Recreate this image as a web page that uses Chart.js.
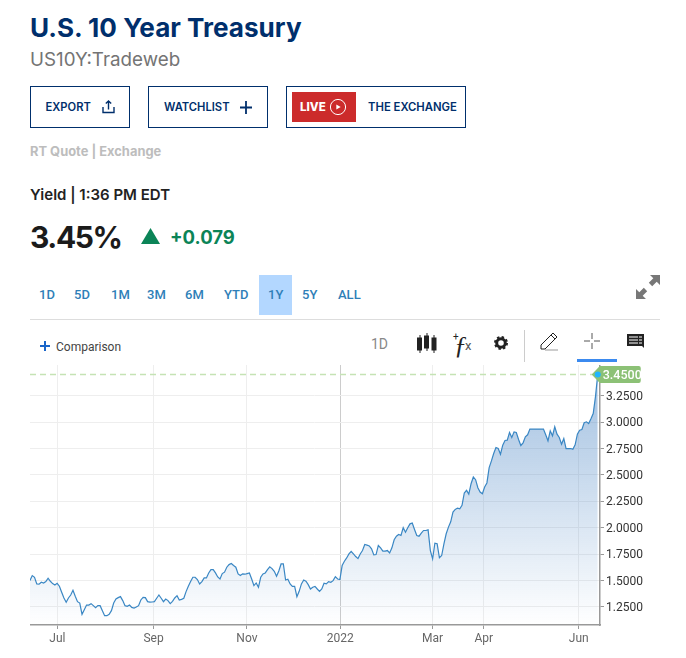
<!DOCTYPE html>
<html>
<head>
<meta charset="utf-8">
<script src="https://cdn.jsdelivr.net/npm/chart.js@4"></script>
<style>
  html, body { margin: 0; padding: 0; background: #fff; }
  body { width: 686px; height: 658px; position: relative; overflow: hidden; font-family: Inter, sans-serif; }
  .t { position: absolute; white-space: nowrap; line-height: 1; }
  .box { position: absolute; border: 1.5px solid #002f6c; box-sizing: border-box; }
  svg { position: absolute; overflow: visible; }
  #chart { position: absolute; left: 30px; top: 365px; }
  .range { position: absolute; top: 287px; font: 500 13px Roboto, sans-serif; color: #2f7fb8; }
</style>
</head>
<body>
<div class="t" style="left:30px;top:15px;font-size:26.1px;font-weight:700;color:#002f6c">U.S. 10 Year Treasury</div>
<div class="t" style="left:30px;top:51px;font-size:18.8px;font-weight:400;color:#747474">US10Y:Tradeweb</div>

<div class="box" style="left:30px;top:86px;width:100px;height:42px"></div>
<div class="t" style="left:45.500px;top:102px;font-size:11.2px;font-weight:600;color:#002f6c">EXPORT</div>
<svg style="left:102px;top:100px" width="13" height="14" fill="none" stroke="#002f6c" stroke-width="1.4"><path d="M1 7v5.500h11V7M6.500 9.500V1M3.800 3.500 6.500 1l2.700 2.500"/></svg>

<div class="box" style="left:148px;top:86px;width:120px;height:42px"></div>
<div class="t" style="left:164px;top:102px;font-size:11.2px;font-weight:600;color:#002f6c">WATCHLIST</div>
<svg style="left:240px;top:101px" width="12" height="13" stroke="#002f6c" stroke-width="1.8"><path d="M6 0v13M0 6.500h12"/></svg>

<div class="box" style="left:286px;top:86px;width:180px;height:42px"></div>
<div style="position:absolute;left:292px;top:92px;width:64px;height:30px;background:#cc2b2b"></div>
<div class="t" style="left:300px;top:102px;font-size:11.500px;font-weight:800;color:#fff">LIVE</div>
<svg style="left:330px;top:99px" width="16" height="16"><circle cx="8" cy="8" r="7.600" fill="none" stroke="#fff" stroke-width="1"/><path d="M6.300 5.500 10.700 8l-4.400 2.500z" fill="#fff"/></svg>
<div class="t" style="left:368px;top:102px;font-size:11.3px;font-weight:600;color:#002f6c">THE EXCHANGE</div>

<div class="t" style="left:30px;top:146px;font-size:12.9px;font-weight:700;color:#bdbdbd">RT Quote | Exchange</div>
<div class="t" style="left:30px;top:187px;font-size:15px;font-weight:600;color:#222">Yield | 1:36 PM EDT</div>
<div class="t" style="left:30px;top:222px;font-size:30px;font-weight:700;letter-spacing:-1.4px;color:#1b1b1b">3.45%</div>
<svg style="left:141px;top:228px" width="19" height="16"><path d="M9.500 0 19 16H0z" fill="#0b8457"/></svg>
<div class="t" style="left:170px;top:228px;font-size:18.500px;font-weight:700;color:#0b8457">+0.079</div>

<div style="position:absolute;left:259px;top:275px;width:33px;height:40px;background:#b3d7ff"></div>
<div class="range" style="left:39px">1D</div>
<div class="range" style="left:74px">5D</div>
<div class="range" style="left:111px">1M</div>
<div class="range" style="left:147px">3M</div>
<div class="range" style="left:185px">6M</div>
<div class="range" style="left:224px">YTD</div>
<div class="range" style="left:268px">1Y</div>
<div class="range" style="left:302px">5Y</div>
<div class="range" style="left:338px">ALL</div>
<svg style="left:636px;top:275px" width="24" height="25" fill="#777"><path d="M14 0h10v10l-3.300-3.300-4.500 4.500-3.400-3.400 4.500-4.500zM0 24V14l3.300 3.300 4.500-4.500 3.400 3.400-4.500 4.500L10 24z"/></svg>
<div style="position:absolute;left:30px;top:319px;width:630px;height:1px;background:#ddd"></div>

<svg style="left:40px;top:341px" width="10" height="10" stroke="#1a66c9" stroke-width="2"><path d="M5 0v10M0 5h10"/></svg>
<div class="t" style="left:56px;top:340px;font:12px Roboto,sans-serif;color:#444">Comparison</div>
<div class="t" style="left:371px;top:336px;font:14px Roboto,sans-serif;color:#888">1D</div>
<svg style="left:417px;top:333px" width="20" height="20" fill="#222" stroke="#222"><path d="M3 2v18M10 0v18M17 2v18" stroke-width="1"/><rect x=".5" y="5" width="4" height="12"/><rect x="7.500" y="3" width="4" height="12"/><rect x="15" y="5" width="4" height="12"/></svg>
<div class="t" style="left:454px;top:331px;font:italic 26px 'Liberation Serif',serif;color:#222">&#402;</div>
<div class="t" style="left:453px;top:331px;font:10px Roboto,sans-serif;color:#222">+</div>
<div class="t" style="left:465px;top:338px;font:13px Roboto,sans-serif;color:#555">x</div>
<svg style="left:494px;top:336px" width="14" height="14"><circle cx="7" cy="7" r="4.300" fill="none" stroke="#222" stroke-width="3"/><circle cx="7" cy="7" r="6" fill="none" stroke="#222" stroke-width="2" stroke-dasharray="2.400 2.300"/></svg>
<div style="position:absolute;left:524px;top:330px;width:1px;height:32px;background:#ccc"></div>
<svg style="left:540px;top:333px" width="19" height="18" fill="none" stroke="#222" stroke-width="1"><path d="M1 16v-4L11 2l4 4L5 16zM11 2l2-2 4 4-2 2"/><path d="M5 17h13" stroke="#999"/></svg>
<svg style="left:584px;top:333px" width="16" height="16" stroke="#555" stroke-width="1"><path d="M8 0v6M8 10v6M0 8h6M10 8h6"/></svg>
<svg style="left:627px;top:334px" width="17" height="15"><path d="M0 0h17v14l-2-2H0z" fill="#222"/><path d="M2 3h9M2 6h9M2 9h9M12 3h3M12 6h3M12 9h3" stroke="#fff" stroke-width="1"/></svg>
<div style="position:absolute;left:577px;top:359px;width:40px;height:3px;background:#3b8aef"></div>

<canvas id="chart" width="640" height="293"></canvas>

<script>
// x is the trading day index, roughly Jun 2021 to Jun 2022
const yields = [
  1.50,1.547,1.531,1.468,1.465,1.484,1.477,1.490,1.522,1.493,
  1.471,1.458,1.474,1.446,1.389,1.335,1.294,1.335,1.363,1.408,
  1.351,1.300,1.287,1.180,1.224,1.268,1.268,1.281,1.262,1.243,
  1.262,1.262,1.215,1.167,1.167,1.180,1.215,1.287,1.325,1.338,
  1.348,1.310,1.262,1.256,1.268,1.246,1.240,1.249,1.262,1.316,
  1.341,1.338,1.300,1.295,1.297,1.300,1.332,1.363,1.332,1.300,
  1.325,1.310,1.281,1.303,1.335,1.357,1.316,1.322,1.332,1.395,
  1.446,1.490,1.531,1.531,1.509,1.468,1.490,1.525,1.525,1.572,
  1.604,1.604,1.572,1.534,1.515,1.566,1.579,1.626,1.651,1.661,
  1.642,1.626,1.563,1.547,1.563,1.560,1.566,1.572,1.515,1.452,
  1.477,1.436,1.531,1.563,1.572,1.604,1.630,1.613,1.588,1.540,
  1.590,1.657,1.657,1.505,1.512,1.468,1.445,1.445,1.347,1.398,
  1.468,1.505,1.493,1.461,1.420,1.436,1.445,1.420,1.398,1.420,
  1.474,1.468,1.490,1.483,1.499,1.537,1.515,1.509,1.642,1.683,
  1.714,1.752,1.775,1.752,1.727,1.708,1.752,1.784,1.841,1.835,
  1.828,1.800,1.743,1.746,1.832,1.810,1.778,1.778,1.784,1.762,
  1.810,1.886,1.920,1.936,1.927,2.000,1.958,2.000,2.037,2.044,
  1.984,1.927,1.920,1.949,1.974,1.974,1.980,1.784,1.705,1.854,
  1.848,1.715,1.737,1.848,1.943,2.006,2.056,2.148,2.174,2.186,
  2.180,2.212,2.329,2.354,2.319,2.417,2.481,2.455,2.379,2.338,
  2.322,2.386,2.424,2.570,2.633,2.703,2.760,2.750,2.696,2.782,
  2.826,2.829,2.902,2.855,2.908,2.902,2.836,2.779,2.804,2.861,
  2.880,2.934,2.934,2.934,2.934,2.934,2.934,2.934,2.880,2.823,
  2.918,2.870,2.956,2.886,2.855,2.791,2.845,2.750,2.750,2.750,
  2.744,2.785,2.886,2.924,2.930,2.994,3.003,2.987,3.032,3.082,
  3.241,3.45
];
const xTickLabels = ["Jul","Sep","Nov","2022","Mar","Apr","Jun"];
const xTickDays = [12.1,54.6,95.9,137.2,178,200.6,242.6];
const yTicks = [1.25,1.5,1.75,2,2.25,2.5,2.75,3,3.25];
const lastYield = yields[yields.length - 1];

const lastLabel = {
  id: "lastLabel",
  afterDraw(chart) {
    const c = chart.ctx;
    const x = chart.scales.x.getPixelForValue(yields.length - 1);
    const y = chart.scales.y.getPixelForValue(lastYield);
    c.save();
    c.fillStyle = "#8cc176";
    c.beginPath();
    c.moveTo(x - 6, y);
    c.lineTo(x + 2, y - 8.500);
    c.lineTo(x + 41, y - 8.500);
    c.quadraticCurveTo(x + 43, y - 8.500, x + 43, y - 6.500);
    c.lineTo(x + 43, y + 6.500);
    c.quadraticCurveTo(x + 43, y + 8.500, x + 41, y + 8.500);
    c.lineTo(x + 2, y + 8.500);
    c.closePath();
    c.fill();
    c.fillStyle = "#1fb5ff";
    c.beginPath();
    c.arc(x, y, 3, 0, Math.PI * 2);
    c.fill();
    c.fillStyle = "#fff";
    c.font = "500 12.5px Roboto, sans-serif";
    c.textBaseline = "middle";
    c.fillText(lastYield.toFixed(4), x + 5, y + 1);
    c.restore();
  }
};

new Chart(document.getElementById("chart"), {
  type: "line",
  data: {
    datasets: [
      {
        data: yields.map((v, i) => ({ x: i, y: v })),
        borderColor: "#3a87c4",
        borderWidth: 1.2,
        pointRadius: 0,
        tension: 0,
        fill: "start",
        backgroundColor(ctx) {
          const a = ctx.chart.chartArea;
          if (!a) return "transparent";
          const g = ctx.chart.ctx.createLinearGradient(0, a.top, 0, a.bottom);
          g.addColorStop(0, "rgba(55,120,190,.48)");
          g.addColorStop(1, "rgba(55,120,190,0)");
          return g;
        }
      },
      {
        data: [{ x: 0, y: lastYield }, { x: yields.length - 1, y: lastYield }],
        borderColor: "#c5e3b5",
        backgroundColor: "#c5e3b5",
        borderWidth: 1.5,
        borderDash: [6, 4],
        pointRadius: 0,
        fill: false
      }
    ]
  },
  options: {
    responsive: false,
    animation: false,
    parsing: false,
    plugins: { legend: { display: false }, tooltip: { enabled: false } },
    layout: { padding: 0 },
    scales: {
      x: {
        type: "linear",
        min: 0,
        max: 252,
        afterBuildTicks(s) { s.ticks = xTickDays.map(v => ({ value: v })); },
        afterFit(s) { s.height = 33; s.paddingLeft = 0; s.paddingRight = 0; },
        grid: {
          color: c => (c.index === 3 ? "#ccc" : "#eee"),
          tickColor: "#999",
          tickLength: 4
        },
        border: { color: "#999", width: 1.5 },
        ticks: {
          autoSkip: false,
          maxRotation: 0,
          padding: 3,
          color: "#666",
          font: { family: "Roboto", size: 12 },
          callback: (v, i) => xTickLabels[i]
        }
      },
      y: {
        position: "right",
        min: 1.079,
        max: 3.541,
        afterBuildTicks(s) { s.ticks = yTicks.map(v => ({ value: v })); },
        afterFit(s) { s.width = 70; s.paddingTop = 0; s.paddingBottom = 0; },
        grid: { color: "#eee", tickColor: "#999", tickLength: 4 },
        border: { color: "#999", width: 1.5 },
        ticks: {
          padding: 2,
          labelOffset: 1,
          color: "#333",
          font: { family: "Roboto", size: 12 },
          callback: v => v.toFixed(4)
        }
      }
    }
  },
  plugins: [lastLabel]
});
</script>
</body>
</html>
